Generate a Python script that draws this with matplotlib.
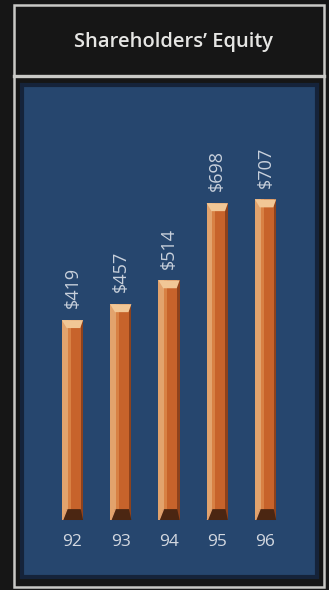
import matplotlib.pyplot as plt
from matplotlib.patches import Rectangle, Polygon
from matplotlib import rcParams
import matplotlib.transforms as mtransforms

rcParams['font.family'] = ['Open Sans', 'DejaVu Sans']

# data
years = ['92', '93', '94', '95', '96']
equity = [419, 457, 514, 698, 707]
value_labels = ['$419', '$457', '$514', '$698', '$707']

W, H = 329, 590
fig = plt.figure(figsize=(W / 100, H / 100), dpi=100)
fig.patch.set_facecolor('#161616')

def fx(px):
    return px / W

def fy(py):
    return 1 - py / H

# outer frame and title divider
frame_col = '#c9c9c6'
fig.add_artist(Rectangle((fx(14), fy(587)), fx(324) - fx(14), fy(5) - fy(587),
                         transform=fig.transFigure, fill=False,
                         edgecolor=frame_col, linewidth=1.8))
fig.add_artist(plt.Line2D([fx(14), fx(324)], [fy(75.5), fy(75.5)],
                          transform=fig.transFigure, color=frame_col, linewidth=2.4))

fig.text(fx(174), fy(42), "Shareholders\u2019 Equity", ha='center', va='center',
         color='#e6e6e4', fontsize=14.5, fontweight='semibold')

# blue panel
ax = fig.add_axes([fx(22), fy(577), fx(317) - fx(22), fy(85) - fy(577)])
ax.set_facecolor('#26466e')
for s in ax.spines.values():
    s.set_color('#15233a')
    s.set_linewidth(3)
ax.set_xticks([])
ax.set_yticks([])

x = list(range(len(years)))
ax.set_xlim(-1.046, 5.066)
ax.set_ylim(-194, 980)

base = -58
bw = 0.44
heights = [v - base for v in equity]
ax.bar(x, heights, bottom=base, width=bw, color='#c7632b', zorder=2)
# left highlight and right shade strips
ax.bar([i - bw / 2 + 0.06 for i in x], heights, bottom=base,
       width=0.12, color='#e2a36d', zorder=3)
ax.bar([i - bw / 2 + 0.15 for i in x], heights, bottom=base,
       width=0.06, color='#d88144', zorder=3)
ax.bar([i + bw / 2 - 0.025 for i in x], heights, bottom=base,
       width=0.05, color='#8e421c', zorder=3)

cap_h = 19
for i, v in zip(x, equity):
    l, r = i - bw / 2, i + bw / 2
    ax.add_patch(Polygon([(l, v), (r, v), (r - 0.06, v - cap_h), (l + 0.10, v - cap_h)],
                         closed=True, facecolor='#f1c796', edgecolor='none', zorder=4))
    ax.add_patch(Polygon([(l + 0.02, base), (r, base), (r - 0.05, base + 26), (l + 0.10, base + 26)],
                         closed=True, facecolor='#4b2612', edgecolor='none', zorder=4))
    ax.add_patch(Polygon([(l, base), (l + 0.03, base), (l + 0.12, base + 26), (l + 0.09, base + 26)],
                         closed=True, facecolor='#e0a070', edgecolor='none', zorder=4))

for i, v, lab in zip(x, equity, value_labels):
    ax.text(i, v + 28, lab, rotation=90, ha='center', va='bottom',
            color='#c9d1dc', fontsize=13, zorder=5)

trans = mtransforms.blended_transform_factory(ax.transData, ax.transAxes)
for i, yr in zip(x, years):
    ax.text(i, 0.071, yr, transform=trans, ha='center', va='center',
            color='#d3d8e0', fontsize=12.5, zorder=5)

fig.savefig('out.png', dpi=100, facecolor=fig.get_facecolor())
